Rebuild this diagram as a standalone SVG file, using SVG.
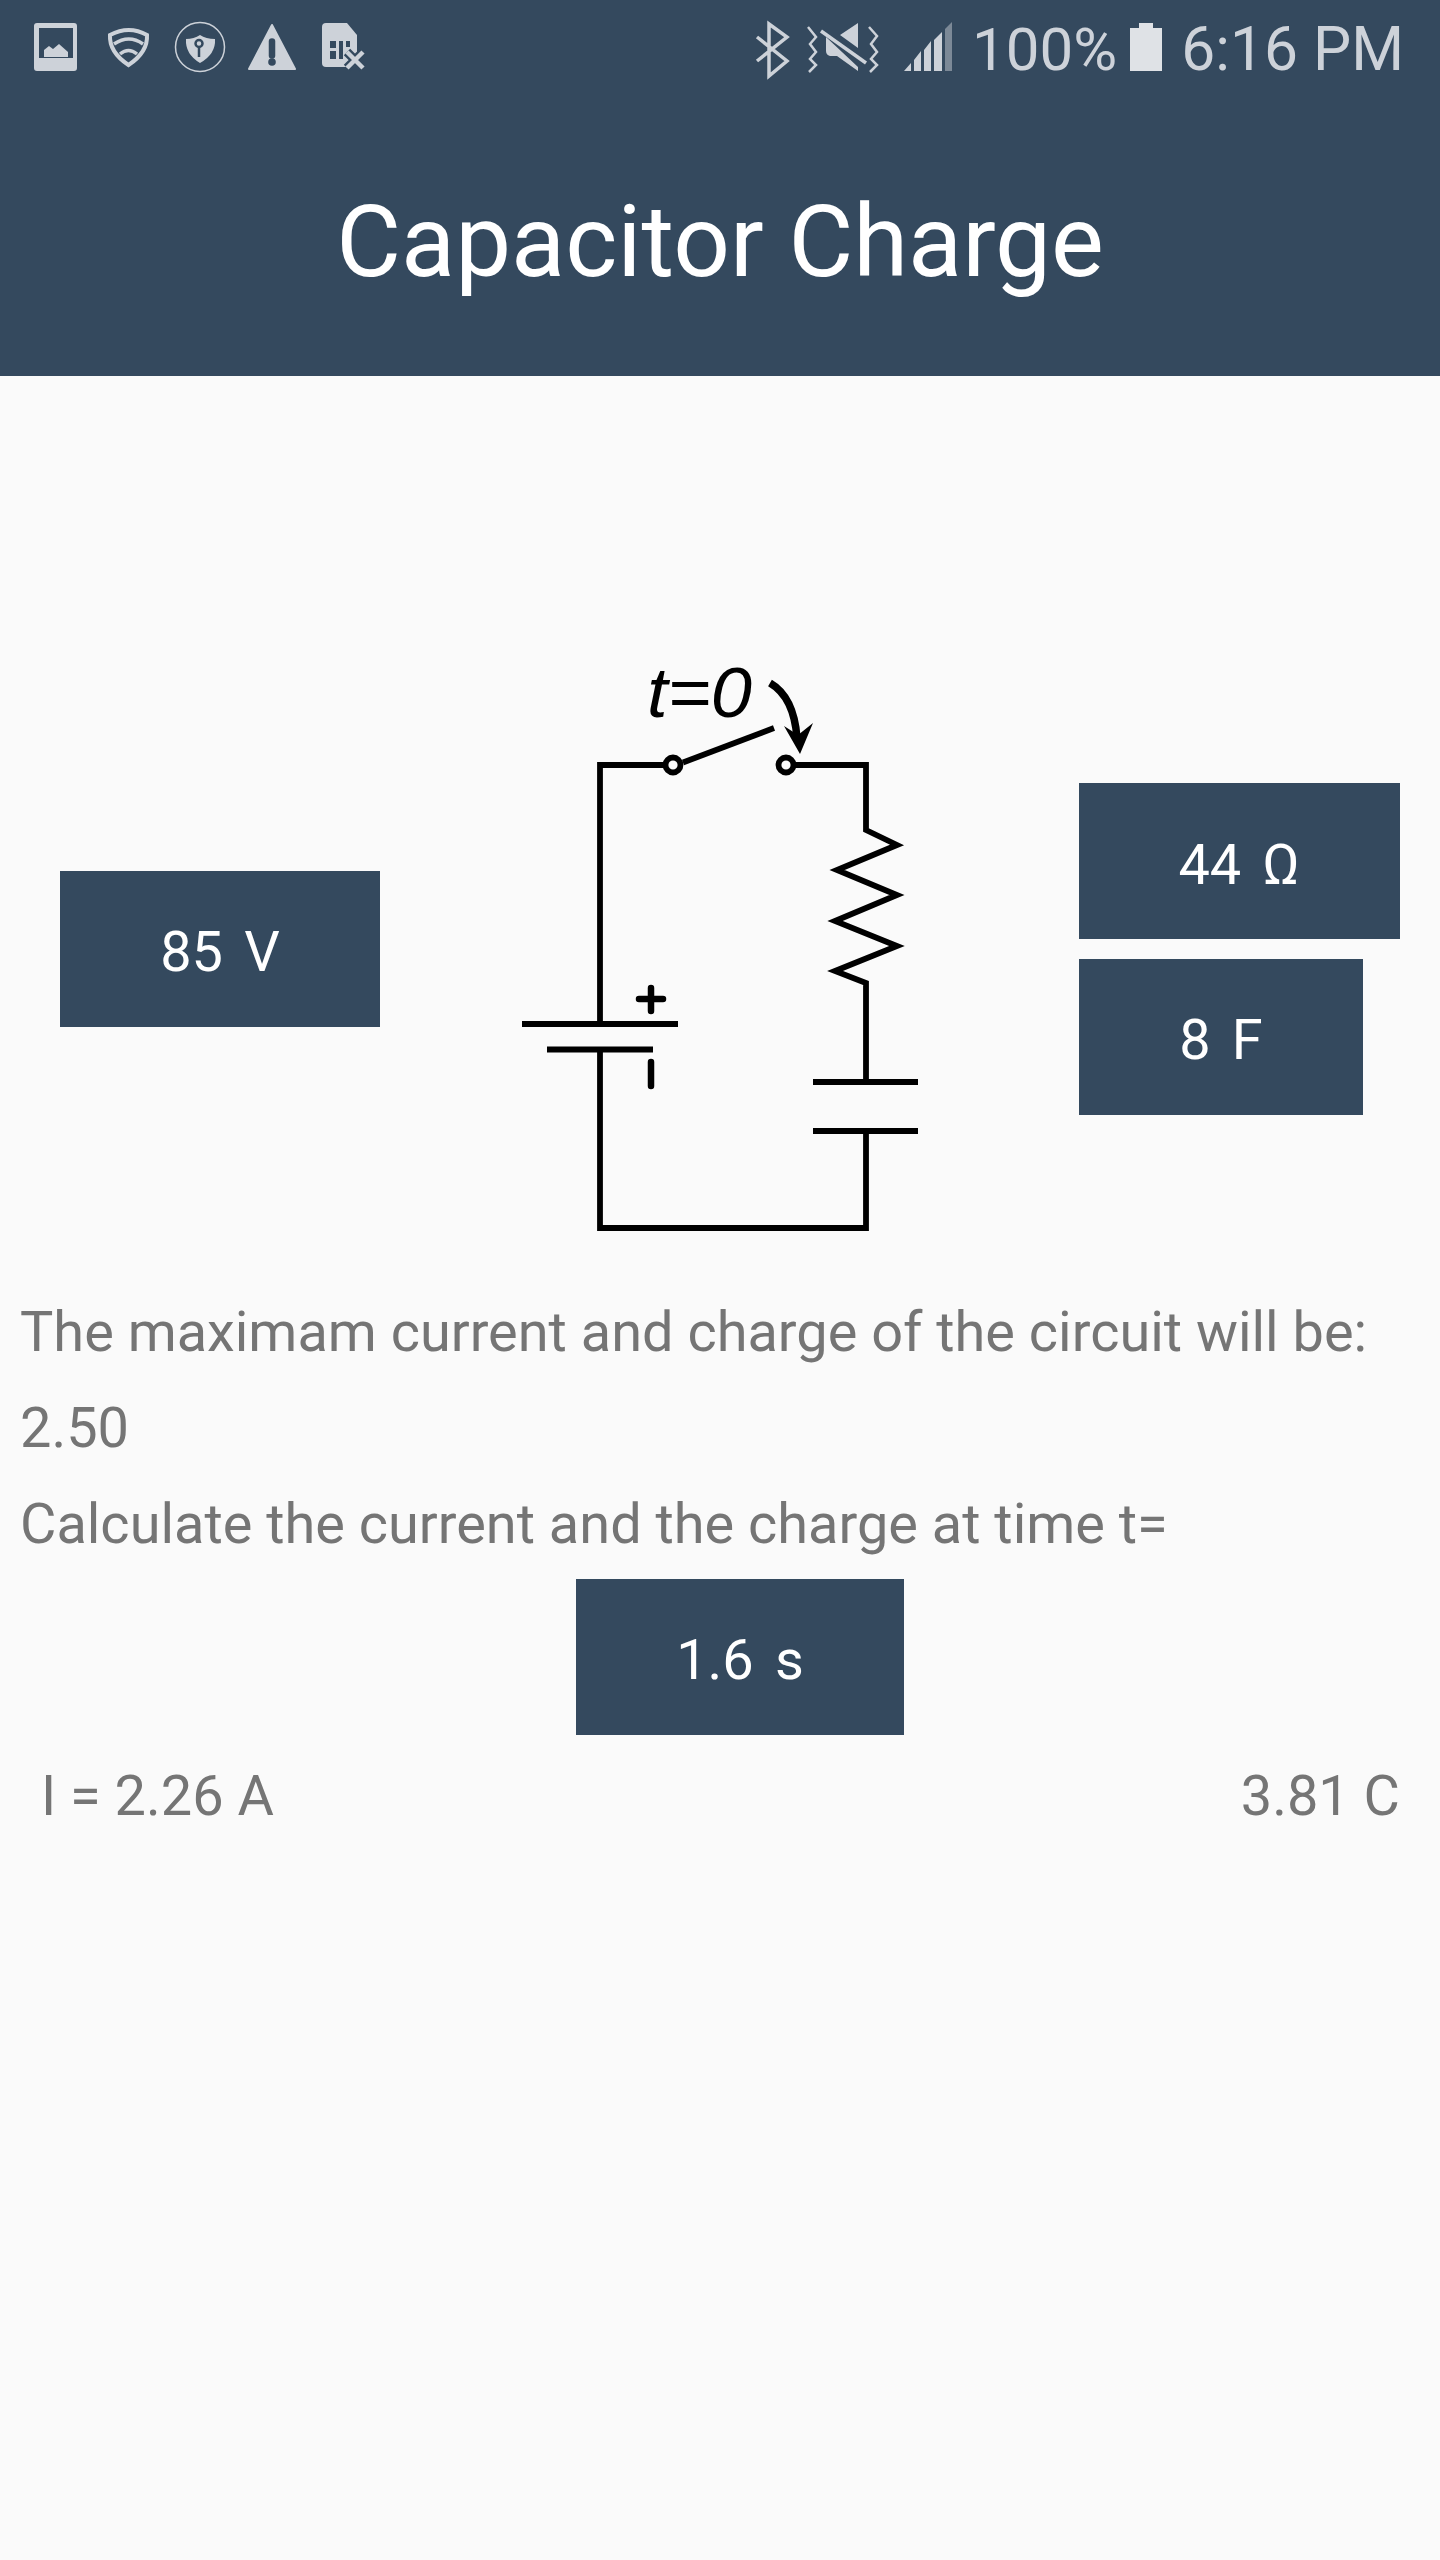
<svg xmlns="http://www.w3.org/2000/svg" width="1440" height="2560" viewBox="0 0 1440 2560">
<style>
text{font-family:Roboto,"Liberation Sans",sans-serif}
.box{fill:#34495e}
.bt{fill:#fff;font-size:55.9px;text-anchor:middle;word-spacing:-3.250px}
.body{fill:#757575;font-size:55.9px}
.w{fill:none;stroke:#000;stroke-width:5.800;stroke-linejoin:miter}
.rc{stroke-linecap:round;stroke-width:6.500}
.st{fill:#cdd2d9}
.sl{fill:none;stroke:#cdd2d9}
.dk{fill:#34495e}
</style>
<rect width="1440" height="2560" fill="#fafafa"/>
<g id="header">
<rect class="box" width="1440" height="376"/>
<text x="720" y="275.500" fill="#fff" font-size="99.600" text-anchor="middle">Capacitor Charge</text>
</g>
<g id="status-left">
<path class="st" fill-rule="evenodd" d="M37 23h37q3 0 3 3v42q0 3-3 3H37q-3 0-3-3V26q0-3 3-3ZM39 28v30h34V28Z"/>
<path class="st" d="M44 57V50l5-4 4 3 6-5 9 8v5Z"/>
<path class="sl" stroke-width="4" d="M110 35q19-10 37 0q1 17-18.500 30q-19.500-13-18.500-30Z"/>
<path class="sl" stroke-width="3.500" d="M114 44q15-10 29 0M120 54q8.500-7 17 0"/>
<circle cx="200" cy="47" r="24.500" fill="none" stroke="#cdd2d9" stroke-width="1.500"/>
<path class="st" d="M186 39q8 0 14-4q6 4 15 4q1 15-15 24q-15-9-14-24Z"/>
<circle cx="199" cy="43.500" r="3.500" fill="none" stroke="#34495e" stroke-width="2.500"/>
<path d="M199 47v10" stroke="#34495e" stroke-width="2.500"/>
<path class="st" stroke="#cdd2d9" stroke-width="2" stroke-linejoin="round" d="M272 25l23 44h-46Z"/>
<path d="M272 41.500v14" stroke="#34495e" stroke-width="6.500" stroke-linecap="round"/>
<circle cx="272" cy="62" r="3.800" fill="#34495e"/>
<path class="st" fill-rule="evenodd" d="M326 23h21l10 12v26q0 6-6 6h-25q-4 0-4-4V27q0-4 4-4Z"/>
<path class="dk" d="M330 41h6v7h-6ZM330 51h6v8h-6ZM339 41h4v18h-4ZM346 41h4v6h-4Z"/>
<path d="M347 52l16 16m0-16l-16 16" stroke="#34495e" stroke-width="9" fill="none"/>
<path d="M347 52l16 16m0-16l-16 16" stroke="#cdd2d9" stroke-width="4.500" fill="none"/>
</g>
<g id="status-right">
<path class="sl" stroke-width="3.500" d="M757 37l30 24-18 15V24l18 13-30 24"/>
<path class="sl" stroke-width="2.500" d="M808 27l8 10-6 7 6 8-6 7 6 6-7 7M869 27l8 9-6 8 6 8-6 7 6 6-7 7"/>
<path class="st" d="M858 23v25l-18-13ZM826 37l32 30v4l-21-15h-7q-4-1-4-5Z"/>
<path d="M821 31l45 32" stroke="#cdd2d9" stroke-width="3.500"/>
<path class="st" d="M904 71l7-8v8ZM914 71V60l7-9v20ZM924 71V50l7-9v30ZM934 71V40l8-8v39Z"/>
<path fill="#7c8997" d="M945 71V29l7-7v49Z"/>
<text x="972" y="70" fill="#cdd2d9" font-size="60">100%</text>
<path fill="#dfe2e6" d="M1130 28h9v-5h14v5h9v43h-32Z"/>
<text x="1404" y="70" fill="#cdd2d9" font-size="60.500" text-anchor="end">6:16 PM</text>
</g>
<g id="circuit">
<text x="647" y="717" font-size="70" font-style="italic" textLength="105" lengthAdjust="spacingAndGlyphs" style="font-family:'Liberation Sans',sans-serif">t=0</text>
<g id="connectors">
<path class="w" d="M665 765H600V1024M600 1049.500V1228H866V1131M866 1082V983L835 971 897 946 835 921 897 895 837 870 897 845 866 830V765H795"/>
<path class="w" d="M683 762.500L774 728"/>
<path class="w" d="M522 1024H678M547 1049.500H653M813 1082H918M813 1131H918"/>
<path class="w rc" d="M639 999H663M651 988V1011M651 1062V1086"/>
<circle class="w" cx="673" cy="765" r="7.500" style="fill:#fafafa"/>
<circle class="w" cx="786" cy="765" r="7.500" style="fill:#fafafa"/>
<path d="M770 683Q794 697 797 738" fill="none" stroke="#000" stroke-width="7.500"/>
<path d="M800 754L784 726 798 735 813 723Z" fill="#000"/>
</g>
</g>
<g id="voltage"><rect class="box" x="60" y="871" width="320" height="156"/><text class="bt" x="220" y="971" xml:space="preserve">85  V</text></g>
<g id="resistance"><rect class="box" x="1079" y="783" width="321" height="156"/><text class="bt" x="1239" y="884" xml:space="preserve">44  Ω</text></g>
<g id="capacitance"><rect class="box" x="1079" y="959" width="284" height="156"/><text class="bt" x="1221" y="1059" xml:space="preserve">8  F</text></g>
<g id="time"><rect class="box" x="576" y="1579" width="328" height="156"/><text class="bt" x="740" y="1679" xml:space="preserve">1.6  s</text></g>
<g id="texts">
<text class="body" x="20" y="1351">The maximam current and charge of the circuit will be:</text>
<text class="body" x="20" y="1447">2.50</text>
<text class="body" x="20" y="1543">Calculate the current and the charge at time t=</text>
<text class="body" x="41" y="1815">I = 2.26 A</text>
<text class="body" x="1400" y="1815" text-anchor="end">3.81 C</text>
</g>
</svg>
